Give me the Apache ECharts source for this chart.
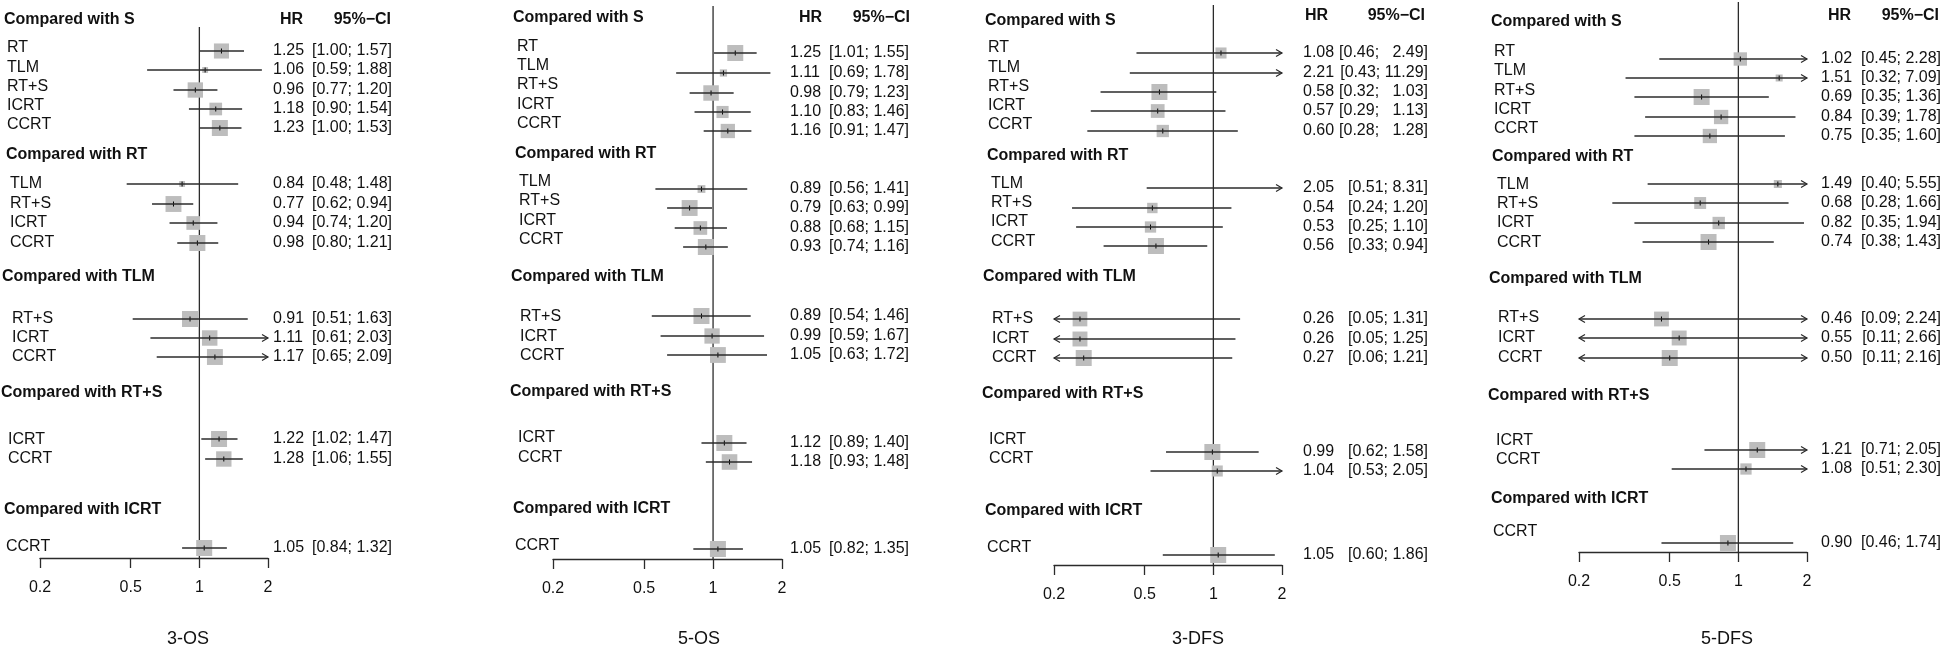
<!DOCTYPE html>
<html><head><meta charset="utf-8">
<script src="https://cdn.jsdelivr.net/npm/echarts@6/dist/echarts.min.js"></script>
<style>html,body{margin:0;padding:0;background:#fff}#c{width:1946px;height:649px}</style>
</head><body><div id="c"></div>
<script>
// ---------------- data ----------------
const groupHeaders = ['Compared with S', 'Compared with RT', 'Compared with TLM', 'Compared with RT+S', 'Compared with ICRT'];
const rowLabels = ['RT', 'TLM', 'RT+S', 'ICRT', 'CCRT', 'TLM', 'RT+S', 'ICRT', 'CCRT', 'RT+S', 'ICRT', 'CCRT', 'ICRT', 'CCRT', 'CCRT'];
const rowGroup = [0, 0, 0, 0, 0, 1, 1, 1, 1, 2, 2, 2, 3, 3, 4];
const panelTitles = ['3-OS', '5-OS', '3-DFS', '5-DFS'];
const tickValues = [0.2, 0.5, 1, 2];
const tickLabels = ['0.2', '0.5', '1', '2'];

const os3_hr = [1.25, 1.06, 0.96, 1.18, 1.23, 0.84, 0.77, 0.94, 0.98, 0.91, 1.11, 1.17, 1.22, 1.28, 1.05];
const os3_lo = [1.00, 0.59, 0.77, 0.90, 1.00, 0.48, 0.62, 0.74, 0.80, 0.51, 0.61, 0.65, 1.02, 1.06, 0.84];
const os3_hi = [1.57, 1.88, 1.20, 1.54, 1.53, 1.48, 0.94, 1.20, 1.21, 1.63, 2.03, 2.09, 1.47, 1.55, 1.32];

const os5_hr = [1.25, 1.11, 0.98, 1.10, 1.16, 0.89, 0.79, 0.88, 0.93, 0.89, 0.99, 1.05, 1.12, 1.18, 1.05];
const os5_lo = [1.01, 0.69, 0.79, 0.83, 0.91, 0.56, 0.63, 0.68, 0.74, 0.54, 0.59, 0.63, 0.89, 0.93, 0.82];
const os5_hi = [1.55, 1.78, 1.23, 1.46, 1.47, 1.41, 0.99, 1.15, 1.16, 1.46, 1.67, 1.72, 1.40, 1.48, 1.35];

const dfs3_hr = [1.08, 2.21, 0.58, 0.57, 0.60, 2.05, 0.54, 0.53, 0.56, 0.26, 0.26, 0.27, 0.99, 1.04, 1.05];
const dfs3_lo = [0.46, 0.43, 0.32, 0.29, 0.28, 0.51, 0.24, 0.25, 0.33, 0.05, 0.05, 0.06, 0.62, 0.53, 0.60];
const dfs3_hi = [2.49, 11.29, 1.03, 1.13, 1.28, 8.31, 1.20, 1.10, 0.94, 1.31, 1.25, 1.21, 1.58, 2.05, 1.86];

const dfs5_hr = [1.02, 1.51, 0.69, 0.84, 0.75, 1.49, 0.68, 0.82, 0.74, 0.46, 0.55, 0.50, 1.21, 1.08, 0.90];
const dfs5_lo = [0.45, 0.32, 0.35, 0.39, 0.35, 0.40, 0.28, 0.35, 0.38, 0.09, 0.11, 0.11, 0.71, 0.51, 0.46];
const dfs5_hi = [2.28, 7.09, 1.36, 1.78, 1.60, 5.55, 1.66, 1.94, 1.43, 2.24, 2.66, 2.16, 2.05, 2.30, 1.74];

const panelData = [
  { hr: os3_hr, lo: os3_lo, hi: os3_hi },
  { hr: os5_hr, lo: os5_lo, hi: os5_hi },
  { hr: dfs3_hr, lo: dfs3_lo, hi: dfs3_hi },
  { hr: dfs5_hr, lo: dfs5_lo, hi: dfs5_hi }
];

// ---------------- layout (pixel placement of rows / columns) ----------------
const layouts = [
  { x0: 40, x1: 268, axisY: 558, refTop: 27, titleX: 188, hrX: 273, ciX: 392, hrHeadX: 280, ciHeadX: 391, headY: 20,
    hdrX: [4, 6, 2, 1, 4], hdrY: [20, 155, 277, 393, 510], labX: [7, 10, 12, 8, 6],
    markY: [51, 70, 90, 109, 128, 184, 204, 223, 243, 319, 338, 357, 439, 459, 548],
    labY: [48, 68, 87, 106, 125, 184, 204, 223, 243, 319, 338, 357, 440, 459, 547] },
  { x0: 553, x1: 782, axisY: 559, refTop: 6, titleX: 699, hrX: 790, ciX: 909, hrHeadX: 799, ciHeadX: 910, headY: 18,
    hdrX: [513, 515, 511, 510, 513], hdrY: [18, 154, 277, 392, 509], labX: [517, 519, 520, 518, 515],
    markY: [53, 73, 93, 112, 131, 189, 208, 228, 247, 316, 336, 355, 443, 462, 549],
    labY: [47, 66, 85, 105, 124, 182, 201, 221, 240, 317, 337, 356, 438, 458, 546] },
  { x0: 1054, x1: 1282, axisY: 565, refTop: 5, titleX: 1198, hrX: 1303, ciX: 1428, hrHeadX: 1305, ciHeadX: 1425, headY: 16,
    hdrX: [985, 987, 983, 982, 985], hdrY: [21, 156, 277, 394, 511], labX: [988, 991, 992, 989, 987],
    markY: [53, 73, 92, 111, 131, 188, 208, 227, 246, 319, 339, 358, 452, 471, 555],
    labY: [48, 68, 87, 106, 125, 184, 203, 222, 242, 319, 339, 358, 440, 459, 548] },
  { x0: 1579, x1: 1807, axisY: 552, refTop: 2, titleX: 1727, hrX: 1821, ciX: 1941, hrHeadX: 1828, ciHeadX: 1939, headY: 16,
    hdrX: [1491, 1492, 1489, 1488, 1491], hdrY: [22, 157, 279, 396, 499], labX: [1494, 1497, 1498, 1496, 1493],
    markY: [59, 78, 97, 117, 136, 184, 203, 223, 242, 319, 338, 358, 450, 469, 543],
    labY: [52, 71, 91, 110, 129, 185, 204, 223, 243, 318, 338, 358, 441, 460, 532] }
];

const FONT = "'Liberation Sans', Arial, Helvetica, sans-serif";
const TXT = '#111';
const LINE = '#2b2b2b';
const BOX = '#bdbdbd';
const AXMIN = 0.2, AXMAX = 2;

// box side derived from CI width (inverse-variance style), relative within each comparison group
function boxSides(lo, hi) {
  const w = lo.map((l, i) => Math.log(hi[i] / l));
  const minW = {};
  w.forEach((v, i) => { const g = rowGroup[i]; minW[g] = minW[g] === undefined ? v : Math.min(minW[g], v); });
  return w.map((v, i) => Math.max(4, 16 * minW[rowGroup[i]] / v));
}

const chart = echarts.init(document.getElementById('c'), null, { renderer: 'canvas' });

const grids = [], xAxes = [], yAxes = [], series = [], graphics = [];

layouts.forEach((L, p) => {
  const D = panelData[p];
  const sides = boxSides(D.lo, D.hi);
  grids.push({ left: L.x0, width: L.x1 - L.x0, top: 0, height: L.axisY, containLabel: false });
  xAxes.push({
    type: 'log', logBase: 10, min: AXMIN, max: AXMAX, gridIndex: p,
    axisLine: { show: true, onZero: false, lineStyle: { color: LINE, width: 1.3 } },
    axisTick: { show: true, customValues: tickValues, length: 10, lineStyle: { color: LINE, width: 1.3 } },
    axisLabel: {
      show: true, customValues: tickValues, margin: 22, fontSize: 16, fontFamily: FONT, color: TXT,
      formatter: v => { const k = tickValues.findIndex(t => Math.abs(t - v) < 1e-6); return k >= 0 ? tickLabels[k] : ''; }
    },
    splitLine: { show: false }, minorTick: { show: false }
  });
  yAxes.push({ type: 'value', min: 0, max: L.axisY, inverse: true, show: false, gridIndex: p });

  // reference line at HR = 1
  series.push({
    type: 'line', xAxisIndex: p, yAxisIndex: p, symbol: 'none', silent: true, z: 1,
    lineStyle: { color: LINE, width: 1.3 },
    data: [[1, L.refTop], [1, L.axisY]]
  });

  const rows = D.hr.map((h, i) => [h, D.lo[i], D.hi[i], L.markY[i], sides[i], L.labY[i], i]);

  series.push({
    type: 'custom', xAxisIndex: p, yAxisIndex: p, clip: false, silent: true, z: 3,
    encode: { x: 0, y: 3 },
    data: rows,
    renderItem: function (params, api) {
      const hr = api.value(0), lo = api.value(1), hi = api.value(2), y = api.value(3);
      const side = api.value(4), ly = api.value(5), idx = api.value(6);
      const yy = api.coord([1, y])[1];
      const xl = api.coord([Math.max(lo, AXMIN), y])[0];
      const xr = api.coord([Math.min(hi, AXMAX), y])[0];
      const children = [];
      if (hr >= AXMIN && hr <= AXMAX) {
        const xh = api.coord([hr, y])[0];
        children.push({ type: 'rect', shape: { x: xh - side / 2, y: yy - side / 2, width: side, height: side },
          style: { fill: BOX } });
        children.push({ type: 'line', shape: { x1: xh, y1: yy - 2.5, x2: xh, y2: yy + 2.5 },
          style: { stroke: '#000', lineWidth: 1 } });
      }
      children.push({ type: 'line', shape: { x1: xl, y1: yy, x2: xr, y2: yy }, style: { stroke: LINE, lineWidth: 1.3 } });
      if (hi > AXMAX) children.push({ type: 'polyline', shape: { points: [[xr - 6, yy - 3.5], [xr, yy], [xr - 6, yy + 3.5]] },
        style: { stroke: LINE, lineWidth: 1.2, fill: null } });
      if (lo < AXMIN) children.push({ type: 'polyline', shape: { points: [[xl + 6, yy - 3.5], [xl, yy], [xl + 6, yy + 3.5]] },
        style: { stroke: LINE, lineWidth: 1.2, fill: null } });
      // texts
      const g = rowGroup[idx];
      children.push({ type: 'text', style: { x: L.labX[g], y: ly, text: rowLabels[idx], fill: TXT,
        font: '16px ' + FONT, textAlign: 'left', textVerticalAlign: 'middle' } });
      children.push({ type: 'text', style: { x: L.hrX, y: yy, text: hr.toFixed(2), fill: TXT,
        font: '16px ' + FONT, textAlign: 'left', textVerticalAlign: 'middle' } });
      let hiTxt = hi.toFixed(2);
      const groupHasWide = D.hi.some((v, k) => rowGroup[k] === g && v >= 10);
      if (groupHasWide && hi < 10) hiTxt = '\u2007' + hiTxt;
      children.push({ type: 'text', style: { x: L.ciX, y: yy, text: '[' + lo.toFixed(2) + '; ' + hiTxt + ']', fill: TXT,
        font: '16px ' + FONT, textAlign: 'right', textVerticalAlign: 'middle' } });
      return { type: 'group', children: children };
    }
  });

  // static texts: group headers, column headers, panel title
  groupHeaders.forEach((h, g) => {
    graphics.push({ type: 'text', x: L.hdrX[g], y: L.hdrY[g], style: { text: h, fill: TXT,
      font: 'bold 16px ' + FONT, textAlign: 'left', textVerticalAlign: 'middle' } });
  });
  graphics.push({ type: 'text', x: L.hrHeadX, y: L.headY, style: { text: 'HR', fill: TXT,
    font: 'bold 16px ' + FONT, textAlign: 'left', textVerticalAlign: 'middle' } });
  graphics.push({ type: 'text', x: L.ciHeadX, y: L.headY, style: { text: '95%\u2212CI', fill: TXT,
    font: 'bold 16px ' + FONT, textAlign: 'right', textVerticalAlign: 'middle' } });
  graphics.push({ type: 'text', x: L.titleX, y: 639, style: { text: panelTitles[p], fill: TXT,
    font: '18px ' + FONT, textAlign: 'center', textVerticalAlign: 'middle' } });
});

chart.setOption({
  animation: false,
  backgroundColor: '#fff',
  grid: grids, xAxis: xAxes, yAxis: yAxes, series: series, graphic: graphics
});
</script></body></html>
